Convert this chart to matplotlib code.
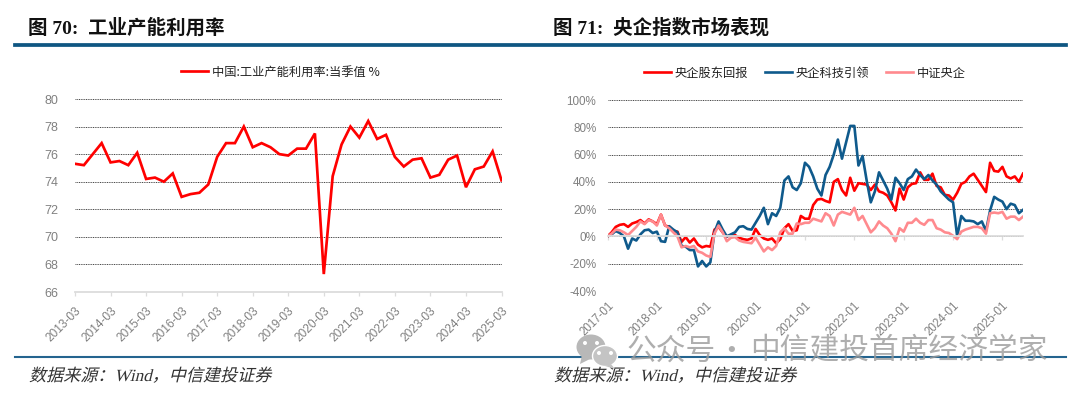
import numpy as np
import matplotlib
matplotlib.use('Agg')
import matplotlib.pyplot as plt
from matplotlib.lines import Line2D
from matplotlib.patches import Ellipse, Polygon
from matplotlib.patheffects import AbstractPathEffect
from matplotlib.transforms import Affine2D

utilization = [75.3, 75.2, 76.0, 76.8, 75.4, 75.5, 75.2, 76.1, 74.2, 74.3, 74.0, 74.6,
               72.9, 73.1, 73.2, 73.8, 75.8, 76.8, 76.8, 78.0, 76.5, 76.8, 76.5, 76.0,
               75.9, 76.4, 76.4, 77.5, 67.3, 74.4, 76.7, 78.0, 77.2, 78.4, 77.1, 77.4,
               75.8, 75.1, 75.6, 75.7, 74.3, 74.5, 75.6, 75.9, 73.6, 74.9, 75.1, 76.2, 74.1]
left_labels = ['2013-03', '2014-03', '2015-03', '2016-03', '2017-03', '2018-03', '2019-03',
               '2020-03', '2021-03', '2022-03', '2023-03', '2024-03', '2025-03']

shareholder = [0, 3, 7, 8.5, 9, 7, 9.5, 10.5, 12, 9.5,
               12.5, 11, 9, 16, 8, 7, 4, 3.5, -4, -0.5,
               -4.5, -1.5, -6, -8, -7, -7.5, 5, 7, 3, 0,
               1, 1, -1, -2, -2.5, -1.5, 5.5, 1, -1.5, -2.5,
               -1.5, -5, -2, 6, 9, 4, 4.5, 15, 13, 13,
               23, 27, 27.5, 26, 25, 40, 42, 34, 30, 43,
               33.5, 39, 38.5, 38, 34, 38, 33, 32, 30, 25,
               19, 35, 27, 36, 38.5, 39, 47, 41.5, 41.5, 46,
               37, 36, 30.5, 30, 27, 32, 38.5, 40, 44, 46,
               41.5, 37, 32.5, 54, 48, 47.5, 51, 44, 42.5, 44,
               40, 46]
tech = [0, 1.5, 4, 2.5, 0, -9, -1.5, -3, 1.5, 4.5,
        5, 2.5, 3.5, -3.5, -4, 7.5, 5, 3, -7, -7.5,
        -10, -10, -22, -18, -22, -19, 3, 11, 5, 0,
        1.5, 3, 7, 7.5, 5.5, 5, 10, 15, 21, 9,
        17, 15, 21, 41, 44, 36, 34, 39, 54, 51,
        44, 35, 30, 45, 51, 60, 71, 57, 69, 81,
        81, 52, 59, 41, 25, 33, 47, 41, 35, 27,
        43, 39, 34, 42, 44, 49, 45, 42, 45, 41,
        38, 33, 30, 27, 25, 0, 15, 11.5, 11.5, 11,
        9, 11, 4, 19, 29, 27, 25.5, 20, 24, 23,
        17, 19.5]
csi_soe = [0, 2, 5, 4.5, 3, 1, 4, 7, 11, 9,
           12, 11, 8, 16, 8, 6, 3, 0, -8, -7,
           -8, -7, -11, -12, -14, -15, 2, 8, 3, -3.5,
           -1, -0.5, -3, -4, -4.5, -5, -1, -6, -11, -8,
           -10, -7, 3, 6, 2, 2, 9.5, 9, 10, 10,
           13, 12, 11, 17, 15, 8, 16, 18, 17, 16,
           21, 12, 15, 9, 3, 6, 11, 8, 6, 2,
           -3.5, 6, 3.5, 10, 10, 13, 10, 8.5, 12, 12,
           6, 5, 3, 2.5, 0.5, -2, 3.5, 5, 6, 7,
           7, 6, 2, 17, 17.5, 17, 18, 13, 14.5, 14.5,
           12, 14.5]
right_labels = ['2017-01', '2018-01', '2019-01', '2020-01', '2021-01', '2022-01',
                '2023-01', '2024-01', '2025-01']

W, H = 1080, 394
CJK = ['Noto Sans CJK SC', 'DejaVu Sans']
TICK = ['Liberation Sans', 'DejaVu Sans']
GRAY = '#808080'
RULE = '#0f5682'
fig = plt.figure(figsize=(W / 100, H / 100), dpi=100)


def axes_px(x0, x1, ytop, ybot):
    return fig.add_axes([x0 / W, 1 - ybot / H, (x1 - x0) / W, (ybot - ytop) / H])


def fx(x):
    return x / W


def fy(y):
    return 1 - y / H


class Skew(AbstractPathEffect):
    def __init__(self, y0, deg=14):
        super().__init__()
        self.y0 = y0
        self.deg = deg

    def draw_path(self, renderer, gc, tpath, affine, rgbFace=None):
        t = affine + Affine2D().translate(0, -self.y0).skew_deg(self.deg, 0).translate(0, self.y0)
        renderer.draw_path(gc, tpath, t, rgbFace)


def style(ax):
    ax.grid(axis='y', color='#444444', lw=0.7, ls=(0, (1, 0.8)))
    ax.set_axisbelow(True)
    for s in ('top', 'left', 'right'):
        ax.spines[s].set_visible(False)
    ax.spines['bottom'].set_color('#dcdcdc')
    ax.spines['bottom'].set_linewidth(1.3)
    ax.tick_params(axis='y', length=0, labelcolor=GRAY, pad=8)
    ax.tick_params(axis='x', color='#dcdcdc', width=0.9, length=3)
    ax.set_facecolor('none')


# ---- left chart
axL = axes_px(75, 501.5, 99, 292)
x_l = np.arange(len(utilization))
axL.plot(x_l, utilization, color='#ff0000', lw=1.95, solid_joinstyle='miter',
         label='中国:工业产能利用率:当季值 %')
axL.set_xlim(0, 48)
axL.set_ylim(66, 80)
axL.set_yticks(range(66, 81, 2))
axL.set_xticks(np.arange(0, 49, 4))
axL.set_xticklabels(left_labels, rotation=45, ha='right', va='top', rotation_mode='anchor',
                    family=TICK, fontsize=8.6, color=GRAY)
for t in axL.get_yticklabels():
    t.set_family(TICK)
    t.set_fontsize(9)
style(axL)
axL.tick_params(axis='x', pad=6)
axL.tick_params(axis='y', pad=12)
axL.legend(loc='center', bbox_to_anchor=(fx(280.5), fy(72)), bbox_transform=fig.transFigure,
           frameon=False, prop={'family': CJK, 'size': 8.8, 'weight': 'medium'},
           labelcolor='#222222', handlelength=2.2, handletextpad=0.4, borderpad=0)

# ---- right chart
axR = axes_px(607.5, 1023, 100, 291)
x_r = np.arange(len(shareholder))
axR.plot(x_r, shareholder, color='#ff0000', lw=1.9, label='央企股东回报')
axR.plot(x_r, tech, color='#0f5a8c', lw=1.9, label='央企科技引领')
axR.plot(x_r, csi_soe, color='#ff8a8e', lw=1.9, label='中证央企')
axR.set_xlim(0, 101)
axR.set_ylim(-40, 100)
y_r = np.arange(-40, 101, 20)
axR.set_yticks(y_r)
axR.set_yticklabels([f'{v}%' for v in y_r], family=TICK, fontsize=8.4)
tick_r = np.arange(0, 97, 12)
axR.set_xticks(tick_r)
axR.set_xticklabels([])
style(axR)
axR.spines['bottom'].set_position(('data', 0))
sec = axR.secondary_xaxis(0)
sec.set_xticks(tick_r)
sec.set_xticklabels(right_labels, rotation=45, ha='right', va='top', rotation_mode='anchor',
                    family=TICK, fontsize=8.3, color=GRAY)
sec.tick_params(length=0, pad=6)
sec.spines['bottom'].set_visible(False)
axR.legend(loc='center', bbox_to_anchor=(fx(805), fy(73)), bbox_transform=fig.transFigure,
           frameon=False, ncol=3, prop={'family': CJK, 'size': 8.8, 'weight': 'medium'},
           labelcolor='#222222', handlelength=2.2, handletextpad=0.3, columnspacing=1.4, borderpad=0)

# ---- headers, rules, footers
TITLE = ['Liberation Serif', 'Noto Sans CJK SC']
fig.text(fx(28), fy(27.5), '图 70:  工业产能利用率', family=TITLE, weight='bold', fontsize=14,
         color='#111111', va='center', ha='left')
fig.text(fx(553), fy(27.5), '图 71:  央企指数市场表现', family=TITLE, weight='bold', fontsize=14,
         color='#111111', va='center', ha='left')
fig.add_artist(Line2D([fx(15), fx(1066)], [fy(45)] * 2, color=RULE, lw=2.7, transform=fig.transFigure))
fig.add_artist(Line2D([fx(15), fx(1066)], [fy(357)] * 2, color='#24648f', lw=1.5, transform=fig.transFigure))

FOOT = ['Liberation Serif', 'Noto Sans CJK SC']
source = '数据来源\uff1aWind\uff0c中信建投证券'
for xp in (29, 554):
    t = fig.text(fx(xp), fy(381), source, family=FOOT, fontsize=12.3, color='#333333', va='baseline', ha='left')
    t.set_path_effects([Skew(H - 381)])

# ---- watermark
wm_text = dict(family=CJK, fontsize=21.4, color='#9a9a9a', alpha=0.8, va='center', zorder=10)
fig.text(fx(626), fy(351), '公众号', ha='left', **wm_text)
fig.text(fx(731), fy(351), '·', ha='center', **wm_text)
fig.text(fx(750), fy(351), '中信建投首席经济学家', ha='left', **wm_text)
wm = dict(transform=None, zorder=10)
fig.add_artist(Ellipse((591, H - 347), 29, 25, fc='#b8b8b8', ec='none', **wm))
fig.add_artist(Polygon([(582, H - 355), (580, H - 364), (590, H - 359)], fc='#b8b8b8', ec='none', **wm))
fig.add_artist(Ellipse((605, H - 356), 25, 21, fc='#c4c4c4', ec='white', lw=1, **wm))
fig.add_artist(Polygon([(611, H - 364), (615, H - 369), (605, H - 366)], fc='#c4c4c4', ec='none', **wm))
for cx, cy in ((585, 343), (597, 343), (599, 353), (611, 353)):
    fig.add_artist(Ellipse((cx, H - cy), 4, 4, fc='white', ec='none', **wm))

fig.savefig('out.png', dpi=100)
